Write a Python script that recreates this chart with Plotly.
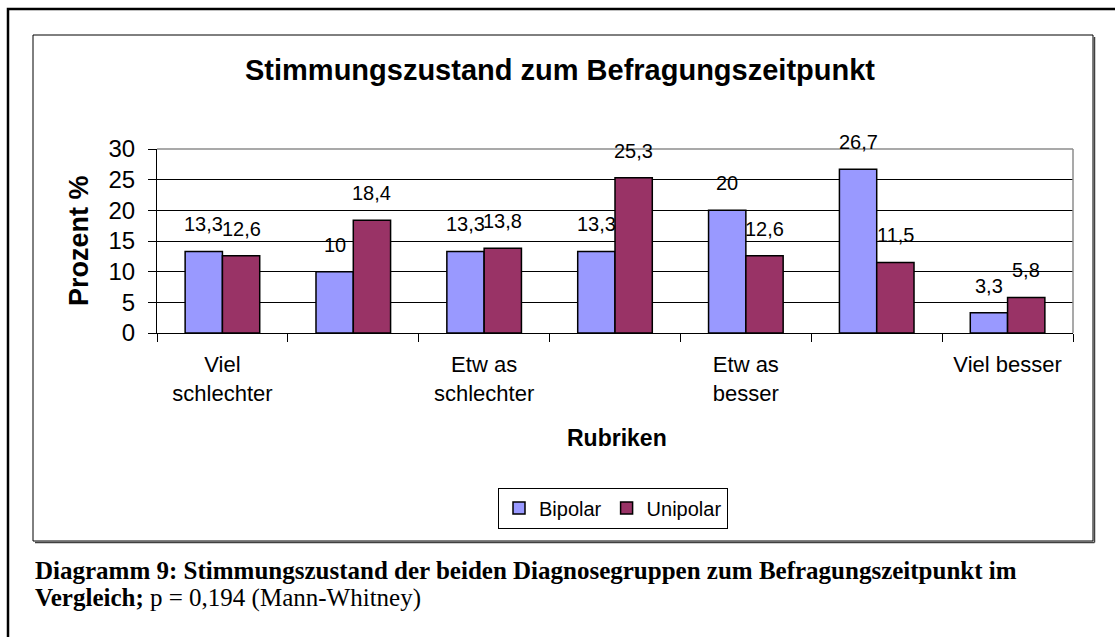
import plotly.graph_objects as go

W, H = 1115, 637

categories = ['Viel schlechter', 'Schlechter', 'Etwas schlechter', 'Gleich',
              'Etwas besser', 'Besser', 'Viel besser']
tick_labels = ['Viel<br>schlechter', '', 'Etw as<br>schlechter', '',
               'Etw as<br>besser', '', 'Viel besser']
bipolar = [13.3, 10, 13.3, 13.3, 20, 26.7, 3.3]
unipolar = [12.6, 18.4, 13.8, 25.3, 12.6, 11.5, 5.8]

FONT = 'Arial, Liberation Sans, sans-serif'
SERIF = 'Times New Roman, Liberation Serif, serif'


def px(x):
    return x / W


def py(y):
    return 1 - y / H


def fmt(v):
    return f'{v:g}'.replace('.', ',')


fig = go.Figure()
fig.add_trace(go.Bar(x=categories, y=bipolar, name='Bipolar',
                     marker=dict(color='#9999FF', line=dict(color='black', width=1.5))))
fig.add_trace(go.Bar(x=categories, y=unipolar, name='Unipolar',
                     marker=dict(color='#993366', line=dict(color='black', width=1.5))))

annotations = []
for vals, shift in ((bipolar, -18.7), (unipolar, 18.7)):
    for c, v in zip(categories, vals):
        annotations.append(dict(x=c, y=v, xref='x', yref='y', text=fmt(v),
                                showarrow=False, xshift=shift, yshift=14,
                                yanchor='bottom', font=dict(size=20, color='black')))

annotations += [
    dict(x=px(560), y=py(70), xref='paper', yref='paper', showarrow=False,
         text='<b>Stimmungszustand zum Befragungszeitpunkt</b>',
         font=dict(size=29, color='black'), xanchor='center', yanchor='middle'),
    dict(x=px(79), y=py(241), xref='paper', yref='paper', showarrow=False,
         text='<b>Prozent %</b>', textangle=-90,
         font=dict(size=27, color='black'), xanchor='center', yanchor='middle'),
    dict(x=px(617), y=py(438), xref='paper', yref='paper', showarrow=False,
         text='<b>Rubriken</b>',
         font=dict(size=23, color='black'), xanchor='center', yanchor='middle'),
    dict(x=px(33), y=py(570), xref='paper', yref='paper', showarrow=False,
         text='<b>Diagramm 9: Stimmungszustand der beiden Diagnosegruppen zum Befragungszeitpunkt im</b>',
         font=dict(size=25, color='black', family=SERIF), xanchor='left', yanchor='middle'),
    dict(x=px(33), y=py(598), xref='paper', yref='paper', showarrow=False,
         text='<b>Vergleich;</b> p = 0,194 (Mann-Whitney)',
         font=dict(size=25, color='black', family=SERIF), xanchor='left', yanchor='middle'),
]

shapes = [
    # outer frame
    dict(type='rect', xref='paper', yref='paper', x0=px(8), y0=py(9), x1=px(1130), y1=py(660),
         line=dict(color='black', width=2.5)),
    # chart area with shadow
    dict(type='rect', xref='paper', yref='paper', x0=px(33), y0=py(35), x1=px(1093), y1=py(541),
         line=dict(color='black', width=1)),
    dict(type='line', xref='paper', yref='paper', x0=px(35), y0=py(542.5), x1=px(1094.5), y1=py(542.5),
         line=dict(color='#404040', width=1.5)),
    dict(type='line', xref='paper', yref='paper', x0=px(1094.5), y0=py(37), x1=px(1094.5), y1=py(542.5),
         line=dict(color='#404040', width=1.5)),
    # grey plot area border (top and right)
    dict(type='line', xref='x domain', yref='y domain', x0=0, y0=1, x1=1, y1=1,
         line=dict(color='#8c8c8c', width=1.5), layer='above'),
    dict(type='line', xref='x domain', yref='y domain', x0=1, y0=0, x1=1, y1=1,
         line=dict(color='#8c8c8c', width=1.5), layer='above'),
]

fig.update_layout(
    autosize=True,
    margin=dict(l=0, r=0, t=0, b=0, pad=0, autoexpand=False),
    paper_bgcolor='white',
    plot_bgcolor='white',
    font=dict(family=FONT, color='black'),
    barmode='group',
    bargap=0.43,
    bargroupgap=0,
    showlegend=True,
    legend=dict(orientation='h', x=px(613), y=py(508), xanchor='center', yanchor='middle',
                bordercolor='black', borderwidth=1, font=dict(size=20),
                itemwidth=30, tracegroupgap=0),
    annotations=annotations,
    shapes=shapes,
)
fig.update_xaxes(
    domain=[px(157), px(1073)], automargin=False,
    tickmode='array', tickvals=categories, ticktext=tick_labels,
    tickson='boundaries', ticks='outside', ticklen=8, tickcolor='black',
    ticklabelstandoff=12,
    showline=True, linecolor='black', linewidth=1,
    showgrid=False, tickfont=dict(size=22), tickangle=0,
)
fig.update_yaxes(
    domain=[py(333), py(149)], automargin=False,
    range=[0, 30], dtick=5, ticks='outside', ticklen=8, tickcolor='black',
    ticklabelstandoff=8,
    showline=True, linecolor='black', linewidth=1,
    showgrid=True, gridcolor='black', gridwidth=1,
    tickfont=dict(size=24), zeroline=False,
)

# fill the browser window exactly, without the default page margin
fit_js = ("document.body.style.margin='0';document.body.style.overflow='hidden';"
          "Plotly.Plots.resize(document.getElementById('{plot_id}'));")
fig.write_html('out.html', config={'displayModeBar': False},
               default_width='100vw', default_height='100vh', post_script=fit_js)
